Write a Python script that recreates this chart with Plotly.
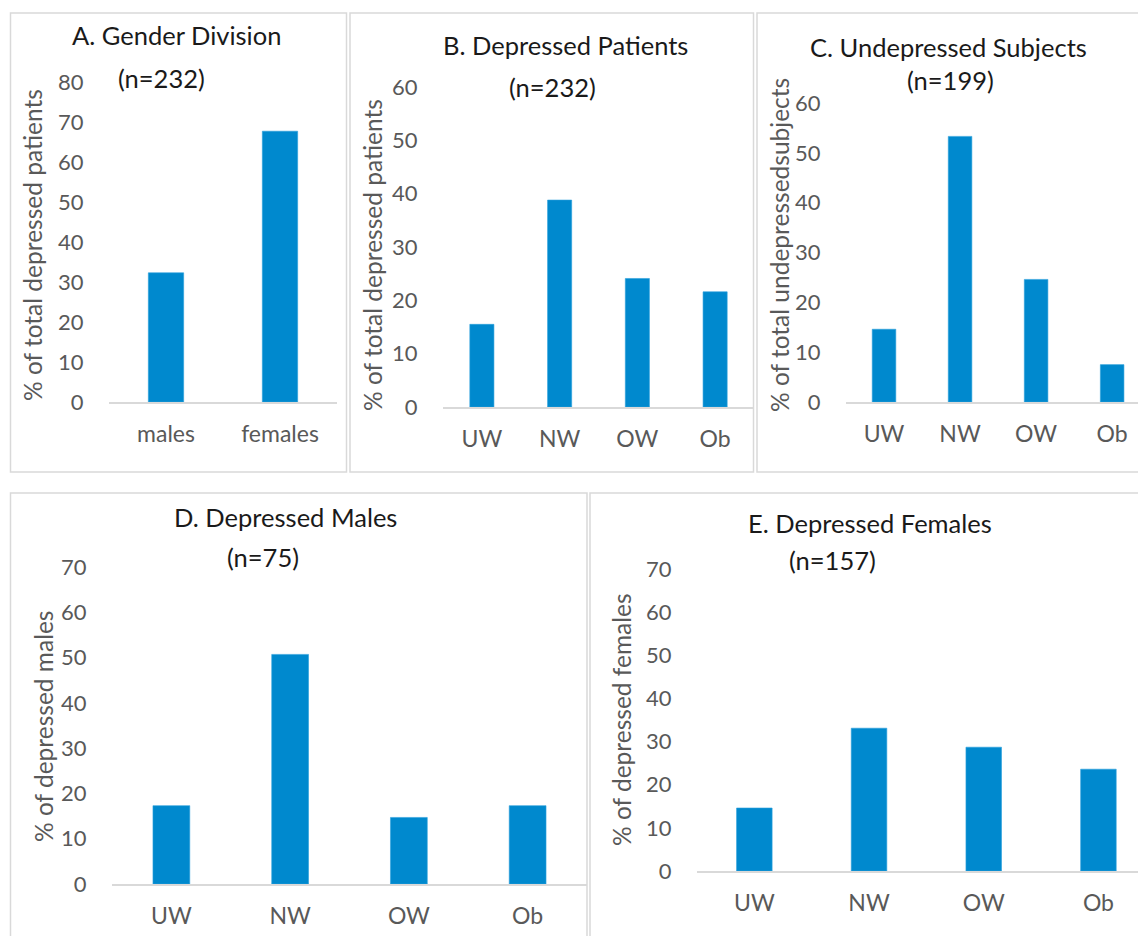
import plotly.graph_objects as go

W, H = 1138, 936

# ---- data ----
gender_cats = ["males", "females"]
gender_vals = [32.3, 67.7]

bmi_cats = ["UW", "NW", "OW", "Ob"]
dep_patients_vals = [15.5, 38.8, 24.1, 21.6]
undep_subjects_vals = [14.6, 53.3, 24.6, 7.5]
dep_males_vals = [17.3, 50.7, 14.7, 17.3]
dep_females_vals = [14.6, 33.1, 28.7, 23.6]

panel_titles = ["A. Gender Division", "B. Depressed Patients", "C. Undepressed Subjects",
                "D. Depressed Males", "E. Depressed Females"]
panel_ns = ["(n=232)", "(n=232)", "(n=199)", "(n=75)", "(n=157)"]
y_titles = ["% of total depressed patients", "% of total depressed patients",
            "% of total undepressedsubjects", "% of depressed males", "% of depressed females"]
y_max = [80, 60, 60, 70, 70]

BAR = "#0089CE"
TICK = "#595959"
FONT = "Lato"

def px_x(x):
    return x / W

def px_y(y):
    return 1 - y / H

# plot-area pixel geometry per panel: (x0, x1, ytop, ybottom, xrange_right)
geo = [
    (109, 337, 82, 402, None),
    (443, 754, 87, 407, None),
    (846, 1138, 103, 402, 3.34),
    (112, 587, 567, 884, None),
    (697, 1138, 569, 871, 3.345),
]

series = [
    (gender_cats, gender_vals),
    (bmi_cats, dep_patients_vals),
    (bmi_cats, undep_subjects_vals),
    (bmi_cats, dep_males_vals),
    (bmi_cats, dep_females_vals),
]

fig = go.Figure()
layout = dict(
    template="none",
    width=W, height=H, autosize=False,
    margin=dict(l=0, r=0, t=0, b=0, pad=0),
    paper_bgcolor="white", plot_bgcolor="white",
    showlegend=False, font=dict(family=FONT, color=TICK),
)

for i, ((cats, vals), (x0, x1, yt, yb, xr)) in enumerate(zip(series, geo)):
    n = i + 1
    xa = "x" if n == 1 else f"x{n}"
    ya = "y" if n == 1 else f"y{n}"
    fig.add_trace(go.Bar(
        x=cats, y=vals, xaxis=xa, yaxis=ya,
        marker=dict(color=BAR, line=dict(color="#2aa0dc", width=0.6)),
        width=0.31, hoverinfo="x+y",
    ))
    nc = len(cats)
    right = xr if xr is not None else nc - 0.5
    layout["xaxis" if n == 1 else f"xaxis{n}"] = dict(
        domain=[px_x(x0), px_x(x1)], anchor=ya, range=[-0.5, right],
        showline=True, linecolor="#d9d9d9", linewidth=1.5,
        showgrid=False, zeroline=False, type="category", automargin=False,
        ticks="outside", ticklen=11, tickcolor="rgba(0,0,0,0)",
        tickfont=dict(family=FONT, size=23, color=TICK), fixedrange=True,
    )
    layout["yaxis" if n == 1 else f"yaxis{n}"] = dict(
        domain=[px_y(yb), px_y(yt)], anchor=xa, range=[0, y_max[i]],
        dtick=10, showline=False, showgrid=False, zeroline=False, automargin=False,
        ticks="outside", ticklen=20, tickcolor="rgba(0,0,0,0)",
        tickfont=dict(family=FONT, size=22, color=TICK), fixedrange=True,
    )

fig.update_layout(**layout)

# panel borders
boxes = [(10.5, 346.5, 13, 472), (350, 753.5, 13, 472), (757, 1160, 13, 472),
         (10.5, 587, 493, 960), (590, 1160, 493, 960)]
for (bx0, bx1, by0, by1) in boxes:
    fig.add_shape(type="rect", xref="paper", yref="paper",
                  x0=px_x(bx0), x1=px_x(bx1), y0=px_y(by1), y1=px_y(by0),
                  line=dict(color="#d9d9d9", width=1.5), layer="below")

# titles: (title center x, title y, n center x, n y)
title_pos = [
    (176, 35, 161, 78),
    (565, 45, 552, 87),
    (948, 47, 950, 80),
    (285, 517, 263, 557),
    (870, 523, 832, 560),
]
for t, nn, (tx, ty, nx, ny) in zip(panel_titles, panel_ns, title_pos):
    fig.add_annotation(text=t, x=px_x(tx), y=px_y(ty), xref="paper", yref="paper",
                       xanchor="center", yanchor="middle", showarrow=False,
                       font=dict(family=FONT, size=25.5, color="#1a1a1a"))
    fig.add_annotation(text=nn, x=px_x(nx), y=px_y(ny), xref="paper", yref="paper",
                       xanchor="center", yanchor="middle", showarrow=False,
                       font=dict(family=FONT, size=25.5, color="#1a1a1a"))

ytitle_pos = [(33, 245), (373, 255), (780, 245), (43, 727), (621, 720)]
for t, (ax, ay) in zip(y_titles, ytitle_pos):
    fig.add_annotation(text=t, x=px_x(ax), y=px_y(ay), xref="paper", yref="paper",
                       xanchor="center", yanchor="middle", showarrow=False, textangle=-90,
                       font=dict(family=FONT, size=24.5, color=TICK))

fig.write_html("out.html", config={"displayModeBar": False},
               post_script="document.body.style.margin='0';document.body.style.overflow='hidden';")
